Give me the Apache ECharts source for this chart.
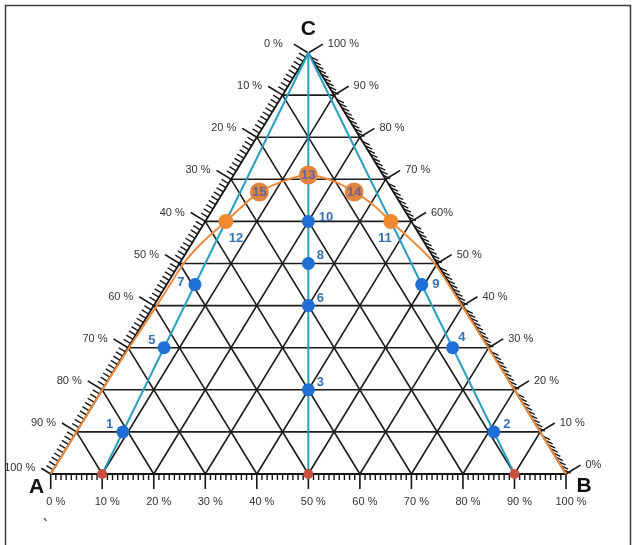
<!DOCTYPE html>
<html>
<head>
<meta charset="utf-8">
<script src="https://cdn.jsdelivr.net/npm/echarts@6/dist/echarts.min.js"></script>
<style>
  html, body { margin: 0; padding: 0; background: #fff; }
  #chart { width: 632px; height: 545px; }
</style>
</head>
<body>
<div id="chart"></div>
<script>
// Ternary compositions are written as [A %, B %, C %].
const gridLevels = [10, 20, 30, 40, 50, 60, 70, 80, 90];
const axisSteps = [0, 10, 20, 30, 40, 50, 60, 70, 80, 90, 100];
const bottomLabels = ['0 %', '10 %', '20 %', '30 %', '40 %', '50 %', '60 %', '70 %', '80 %', '90 %', '100 %'];
const leftLabels = ['100 %', '90 %', '80 %', '70 %', '60 %', '50 %', '40 %', '30 %', '20 %', '10 %', '0 %'];
const rightLabels = ['0%', '10 %', '20 %', '30 %', '40 %', '50 %', '60%', '70 %', '80 %', '90 %', '100 %'];
const vertexNames = ['A', 'B', 'C'];

// Tie lines from the base to the C vertex
const tieLineStarts = [[90, 10, 0], [50, 50, 0], [10, 90, 0]];
const apexC = [0, 0, 100];

// Measured mixtures
const blueNames = ['1', '2', '3', '4', '5', '6', '7', '8', '9', '10'];
const bluePoints = [
  [81, 9, 10], [9, 81, 10], [40, 40, 20], [7, 63, 30], [63, 7, 30],
  [30, 30, 40], [49.5, 5.5, 45], [25, 25, 50], [5.5, 49.5, 45], [20, 20, 60]
];
const orangeNames = ['11', '12'];
const orangePoints = [[4, 36, 60], [36, 4, 60]];
const topNames = ['13', '14', '15'];
const topPoints = [[14.5, 14.5, 71], [7.6, 25.4, 67], [26, 7, 67]];
const basePoints = [[90, 10, 0], [50, 50, 0], [10, 90, 0]];

// Binodal curve
const binodal = [
  [100, 0, 0], [90, 0, 10], [80, 0, 20], [69.8, 0.2, 30], [59.4, 0.6, 40],
  [49.2, 0.8, 50], [43.1, 1.9, 55], [36, 4, 60], [29.75, 5.75, 64.5], [26, 7, 67],
  [20.25, 10.25, 69.5], [14.5, 14.5, 71], [10.25, 20.25, 69.5], [7.6, 25.4, 67],
  [5.5, 30.5, 64], [4, 36, 60], [2, 43, 55], [0.5, 49.5, 50], [0.2, 59.8, 40],
  [0.1, 69.9, 30], [0, 80, 20], [0, 90, 10], [0, 100, 0]
];

// ---- helpers ----
function toXY(abc) {
  const s = abc[0] + abc[1] + abc[2];
  const b = abc[1] / s, c = abc[2] / s;
  return [b + c / 2, c];
}

const segGrid = [];
gridLevels.forEach(function (k) {
  segGrid.push([[100 - k, 0, k], [0, 100 - k, k]]);
  segGrid.push([[100 - k, k, 0], [0, k, 100 - k]]);
  segGrid.push([[k, 100 - k, 0], [k, 0, 100 - k]]);
});
const segEdges = [
  [[100, 0, 0], [0, 100, 0]], [[100, 0, 0], [0, 0, 100]], [[0, 100, 0], [0, 0, 100]]
];
const segTie = tieLineStarts.map(function (p) { return [p, apexC]; });

function segmentSeries(segs, color, width, z) {
  return {
    type: 'custom',
    coordinateSystem: 'cartesian2d',
    z: z,
    silent: true,
    data: segs.map(function (s) { return toXY(s[0]).concat(toXY(s[1])); }),
    encode: { x: [0, 2], y: [1, 3] },
    renderItem: function (params, api) {
      const p1 = api.coord([api.value(0), api.value(1)]);
      const p2 = api.coord([api.value(2), api.value(3)]);
      return {
        type: 'line',
        shape: { x1: p1[0], y1: p1[1], x2: p2[0], y2: p2[1] },
        style: { stroke: color, lineWidth: width, lineCap: 'round' }
      };
    }
  };
}

function norm(v) { const l = Math.hypot(v[0], v[1]); return [v[0] / l, v[1] / l]; }
function lerp(p, q, t) { return [p[0] + (q[0] - p[0]) * t, p[1] + (q[1] - p[1]) * t]; }

// tick data: [side, percent]; side 0 = bottom (B), 1 = left (A), 2 = right (C)
const tickData = [];
for (let side = 0; side < 3; side++) {
  for (let v = 0; v <= 100; v++) tickData.push([side, v]);
}

function frame(api) {
  return {
    A: api.coord([0, 0]),
    B: api.coord([1, 0]),
    C: api.coord([0.5, 1])
  };
}

const tickSeries = {
  type: 'custom',
  coordinateSystem: 'cartesian2d',
  z: 4,
  silent: true,
  data: tickData,
  renderItem: function (params, api) {
    const side = api.value(0), v = api.value(1);
    const f = frame(api);
    const major = v % 10 === 0;
    let p, d, len;
    if (side === 0) {
      p = lerp(f.A, f.B, v / 100);
      d = [0, 1];
      len = major ? 15 : 6;
    } else if (side === 1) {
      p = lerp(f.A, f.C, v / 100);
      const e = [f.C[0] - f.A[0], f.C[1] - f.A[1]];
      d = norm([e[1], -e[0]]);
      len = major ? (v === 0 ? 11 : 17) : 8;
    } else {
      p = lerp(f.B, f.C, v / 100);
      const e = [f.C[0] - f.B[0], f.C[1] - f.B[1]];
      d = major ? norm([-e[1], e[0]]) : norm([0.9, 0.43]);
      len = major ? 17 : 8;
    }
    return {
      type: 'line',
      shape: { x1: p[0], y1: p[1], x2: p[0] + d[0] * len, y2: p[1] + d[1] * len },
      style: { stroke: '#151515', lineWidth: major ? 1.6 : 1.4 }
    };
  }
};

// axis label data: [side, index]
const labelData = [];
for (let side = 0; side < 3; side++) {
  axisSteps.forEach(function (v, i) { labelData.push([side, i]); });
}

const labelSeries = {
  type: 'custom',
  coordinateSystem: 'cartesian2d',
  z: 5,
  silent: true,
  data: labelData,
  renderItem: function (params, api) {
    const side = api.value(0), i = api.value(1);
    const v = axisSteps[i];
    const f = frame(api);
    let x, y, text, align;
    if (side === 0) {
      const p = lerp(f.A, f.B, v / 100);
      x = p[0] + 5; y = p[1] + 28; text = bottomLabels[i]; align = 'center';
    } else if (side === 1) {
      const p = lerp(f.A, f.C, v / 100);
      const e = [f.C[0] - f.A[0], f.C[1] - f.A[1]];
      const d = norm([e[1], -e[0]]);
      const reach = v === 0 ? 11 : 17;
      const gap = v === 100 ? 11 : 6;
      x = p[0] + d[0] * reach - gap; y = p[1] + d[1] * reach; text = leftLabels[i]; align = 'right';
    } else {
      const p = lerp(f.B, f.C, v / 100);
      const e = [f.C[0] - f.B[0], f.C[1] - f.B[1]];
      const d = norm([-e[1], e[0]]);
      x = p[0] + d[0] * 17 + 5; y = p[1] + d[1] * 17; text = rightLabels[i]; align = 'left';
    }
    return {
      type: 'text',
      style: {
        text: text, x: x, y: y, align: align, verticalAlign: 'middle',
        font: '11px "Liberation Sans", Arial, sans-serif', fill: '#333'
      }
    };
  }
};

const vertexSeries = {
  type: 'custom',
  coordinateSystem: 'cartesian2d',
  z: 5,
  silent: true,
  data: [[0], [1], [2]],
  renderItem: function (params, api) {
    const f = frame(api);
    const k = api.value(0);
    const pos = k === 0 ? [f.A[0] - 14, f.A[1] + 13] : k === 1 ? [f.B[0] + 18, f.B[1] + 12] : [f.C[0], f.C[1] - 24];
    return {
      type: 'text',
      style: {
        text: vertexNames[k], x: pos[0], y: pos[1], align: 'center', verticalAlign: 'middle',
        font: 'bold 21px "Liberation Sans", Arial, sans-serif', fill: '#111'
      }
    };
  }
};

// Binodal drawn as one smoothed polyline through the curve points
const binodalSeries = {
  type: 'custom',
  coordinateSystem: 'cartesian2d',
  z: 7,
  silent: true,
  data: [[0.5, 0.5]],
  renderItem: function (params, api) {
    const pts = binodal.map(function (p) { return api.coord(toXY(p)); });
    return {
      type: 'polyline',
      shape: { points: pts, smooth: 0.25 },
      style: { stroke: '#ee8a3c', lineWidth: 2, fill: null }
    };
  }
};

const blueLabelPlacement = [
  { position: 'left', offset: [2, -7] },
  { position: 'right', offset: [-2, -7] },
  { position: 'right', offset: [-3, -7] },
  { position: 'right', offset: [-6, -10] },
  { position: 'left', offset: [3, -7] },
  { position: 'right', offset: [-3, -7] },
  { position: 'left', offset: [1, -2] },
  { position: 'right', offset: [-3, -8] },
  { position: 'right', offset: [-1, 0] },
  { position: 'right', offset: [-1, -4] }
];
const orangeLabelPlacement = [
  { position: 'bottom', offset: [-6, -2] },
  { position: 'bottom', offset: [10, -2] }
];

const labelFont = {
  fontFamily: '"Liberation Sans", Arial, sans-serif',
  fontWeight: 'bold',
  fontSize: 13,
  color: '#3671b3'
};

const option = {
  animation: false,
  backgroundColor: '#fff',
  grid: { left: 50.7, top: 53, width: 515.3, height: 421 },
  xAxis: { type: 'value', min: 0, max: 1, show: false },
  yAxis: { type: 'value', min: 0, max: 1, show: false },
  graphic: [
    {
      type: 'polyline',
      shape: { points: [[5.5, 545], [5.5, 5.5], [630.5, 5.5], [630.5, 545]] },
      style: { stroke: '#3a3a3a', lineWidth: 1.5, fill: null },
      silent: true
    },
    {
      type: 'line',
      shape: { x1: 44, y1: 518, x2: 46.5, y2: 521 },
      style: { stroke: '#555', lineWidth: 1.2 },
      silent: true
    }
  ],
  series: [
    segmentSeries(segGrid, '#1c1c1c', 1.6, 1),
    segmentSeries(segEdges, '#151515', 1.8, 2),
    tickSeries,
    labelSeries,
    vertexSeries,
    segmentSeries(segTie, '#2a9fc2', 2, 6),
    binodalSeries,
    {
      type: 'scatter',
      z: 8,
      silent: true,
      symbolSize: 10,
      itemStyle: { color: '#c8503f', opacity: 1 },
      data: basePoints.map(toXY)
    },
    {
      type: 'scatter',
      z: 9,
      silent: true,
      symbolSize: 13,
      itemStyle: { color: '#1f6fd4', opacity: 1 },
      data: bluePoints.map(function (p, i) {
        return {
          value: toXY(p),
          label: Object.assign({ show: true, formatter: blueNames[i] }, labelFont, blueLabelPlacement[i])
        };
      })
    },
    {
      type: 'scatter',
      z: 9,
      silent: true,
      symbolSize: 15,
      itemStyle: { color: '#f18a2f', opacity: 1 },
      data: orangePoints.map(function (p, i) {
        return {
          value: toXY(p),
          label: Object.assign({ show: true, formatter: orangeNames[i] }, labelFont, orangeLabelPlacement[i])
        };
      })
    },
    {
      type: 'scatter',
      z: 9,
      silent: true,
      symbolSize: 19,
      itemStyle: { color: '#e0843f', opacity: 1 },
      data: topPoints.map(function (p, i) {
        return {
          value: toXY(p),
          label: {
            show: true, formatter: topNames[i], position: 'inside',
            fontFamily: '"Liberation Sans", Arial, sans-serif',
            fontWeight: 'bold', fontSize: 13, color: '#66649a'
          }
        };
      })
    }
  ]
};

const chart = echarts.init(document.getElementById('chart'), null, { renderer: 'canvas' });
chart.setOption(option);
</script>
</body>
</html>
